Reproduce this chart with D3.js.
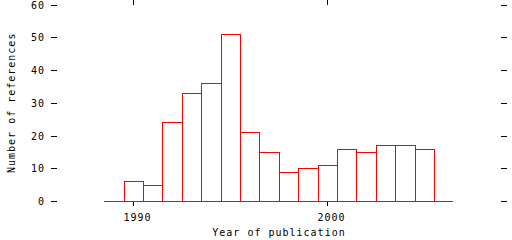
<!DOCTYPE html>
<html>
<head>
<meta charset="utf-8">
<script src="https://cdn.jsdelivr.net/npm/d3@7"></script>
<style>
  body { margin: 0; background: #fff; }
  text { font-family: "DejaVu Sans Mono", monospace; font-size: 10px; letter-spacing: 1px; fill: #000; }
</style>
</head>
<body>
<script>
// publication counts per year
var years = [1990,1991,1992,1993,1994,1995,1996,1997,1998,1999,2000,2001,2002,2003,2004,2005];
var counts = [6,5,24,33,36,51,21,15,9,10,11,16,15,17,17,16];
var xTicks = [1990, 2000];
var yTicks = [0,10,20,30,40,50,60];
var baseSpan = [1988.5, 2006.5];

var width = 512;
var height = 240;
var svg = d3.select("body")
    .append("svg")
    .attr("width",width)
    .attr("height",height);

var plot = {left:57, right:501, top:4.6, bottom:201};

var x = d3.scaleLinear()
    .domain([1986.07, 2008.95])
    .rangeRound([plot.left, plot.right]);
var y = d3.scaleLinear()
    .domain([0, 60])
    .rangeRound([plot.bottom, plot.top]);

// axes: ticks only, no axis line
function clean(g){
    g.select(".domain").remove();
    g.selectAll("line").attr("stroke","#000").attr("shape-rendering","crispEdges");
}

svg.append("g")
    .attr("transform","translate("+plot.left+",0)")
    .call(d3.axisLeft(y).tickValues(yTicks).tickSize(6).tickPadding(7))
    .call(clean)
    .selectAll("text").attr("font-size",null).attr("font-family",null).attr("dx","1px");

svg.append("g")
    .attr("transform","translate("+plot.right+",0)")
    .call(d3.axisRight(y).tickValues(yTicks).tickSize(6).tickFormat(""))
    .call(clean);

svg.append("g")
    .attr("transform","translate(0,"+plot.bottom+")")
    .call(d3.axisBottom(x).tickValues(xTicks).tickSize(5).tickFormat(d3.format("d")))
    .call(clean)
    .selectAll("text")
    .attr("font-size",null).attr("font-family",null)
    .attr("y",20).attr("dy",0).attr("x",4);

svg.append("g")
    .attr("transform","translate(0,"+Math.round(plot.top)+")")
    .call(d3.axisTop(x).tickValues(xTicks).tickSize(5).tickFormat(""))
    .call(clean);

// baseline of the histogram
svg.append("line")
    .attr("x1",x(baseSpan[0]))
    .attr("x2",x(baseSpan[1]))
    .attr("y1",y(0)+0.5)
    .attr("y2",y(0)+0.5)
    .attr("stroke","#ff0000")
    .attr("shape-rendering","crispEdges");

svg.append("g")
    .selectAll("rect")
    .data(years)
    .enter()
    .append("rect")
    .attr("x",function(d){ return x(d-0.5)+0.5; })
    .attr("y",function(d,i){ return y(counts[i])+0.5; })
    .attr("width",function(d){ return x(d+0.5)-x(d-0.5); })
    .attr("height",function(d,i){ return y(0)-y(counts[i]); })
    .attr("fill","none")
    .attr("stroke","#ff0000")
    .attr("shape-rendering","crispEdges");

svg.append("text")
    .attr("x",(plot.left+plot.right)/2)
    .attr("y",236)
    .attr("text-anchor","middle")
    .text("Year of publication");

svg.append("text")
    .attr("transform","translate(15,"+(plot.top+plot.bottom)/2+") rotate(-90)")
    .attr("text-anchor","middle")
    .text("Number of references");
</script>
</body>
</html>
